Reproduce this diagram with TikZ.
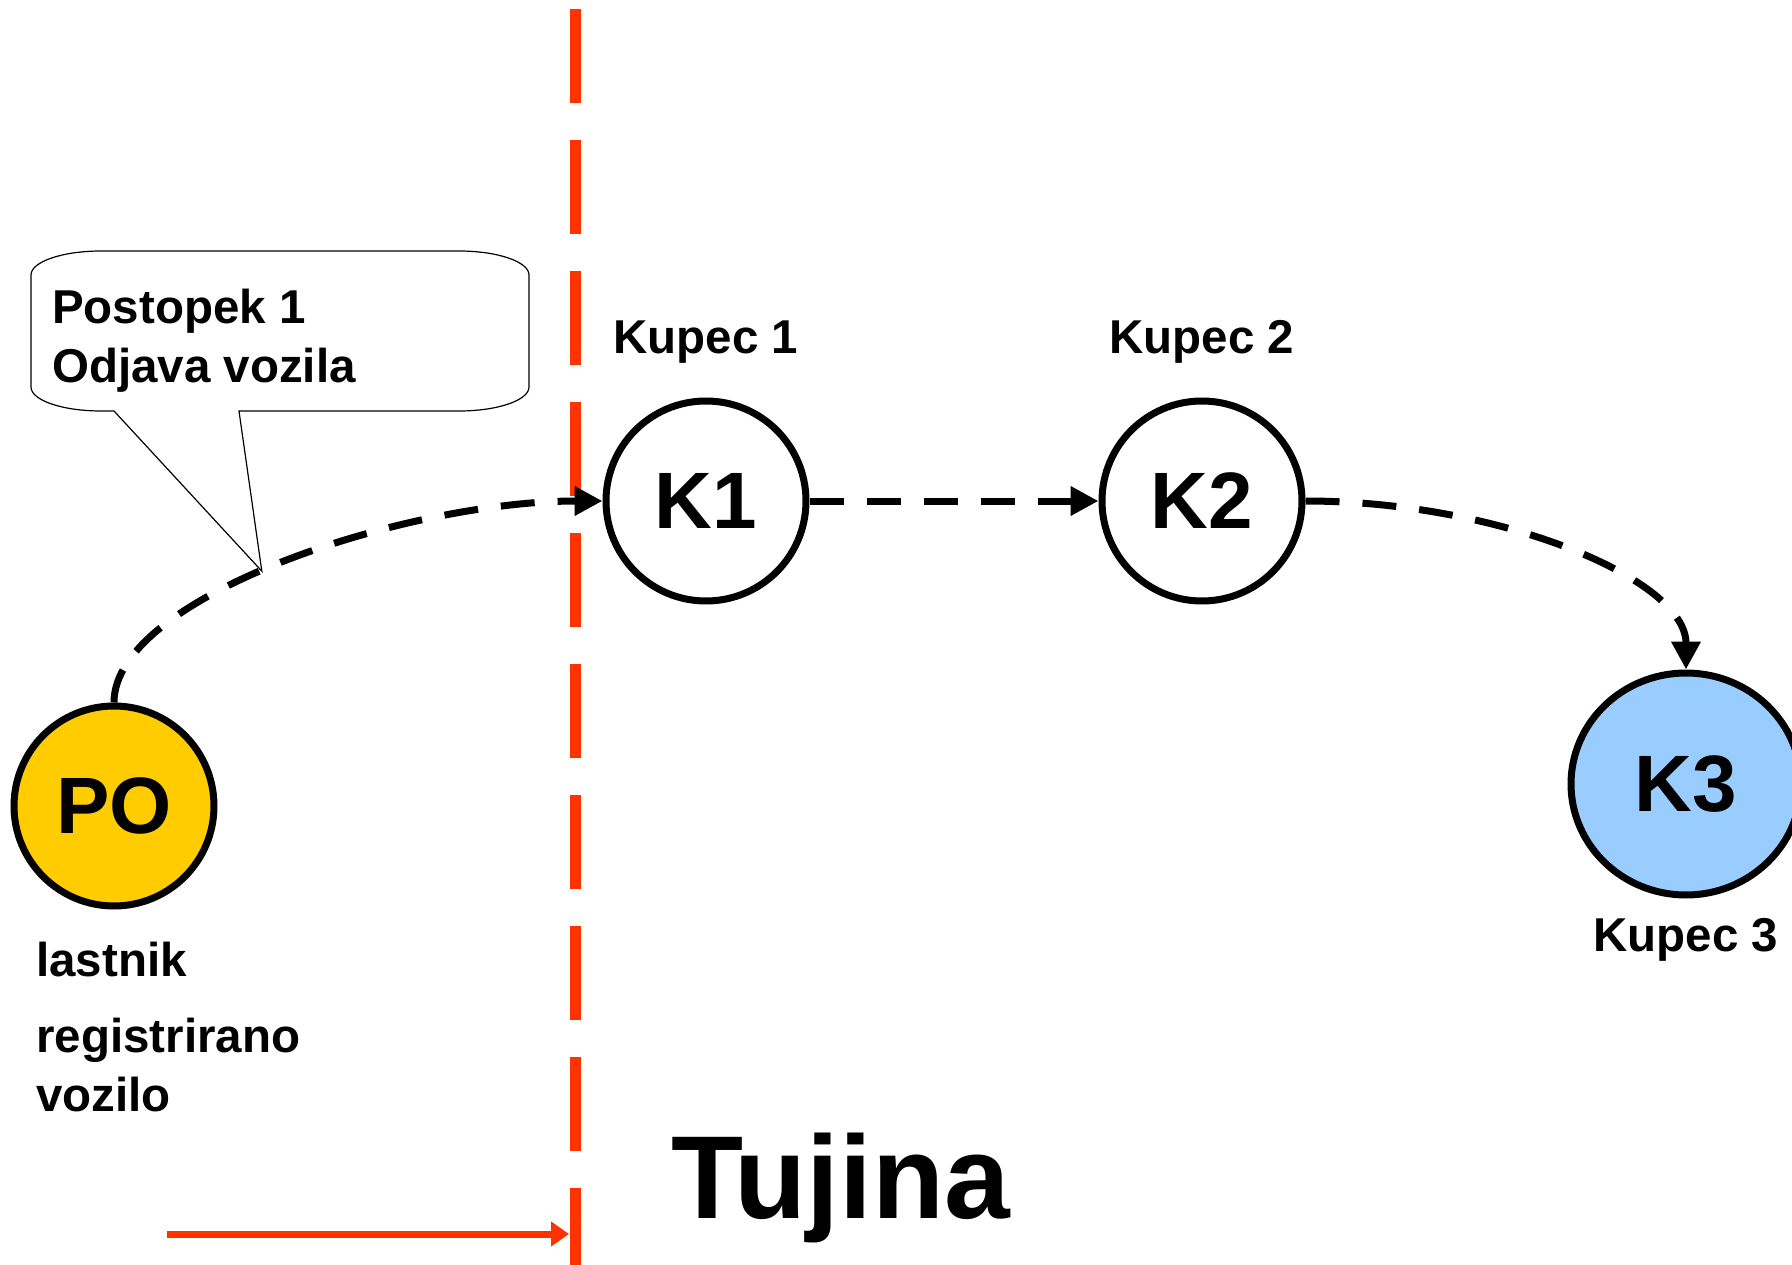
\documentclass[tikz,border=0pt]{standalone}
\usepackage{fontspec}
\setmainfont{Liberation Sans}
\usepackage{xcolor}
\usetikzlibrary{shapes,arrows.meta,positioning}
\definecolor{poyellow}{RGB}{255,204,0}
\definecolor{kblue}{RGB}{153,204,255}
\definecolor{mejared}{RGB}{255,51,0}

\begin{document}
\begin{tikzpicture}[x=1pt, y=1pt, node distance=34pt, auto]
    \tikzstyle{oseba} = [circle, draw, line width=7pt, minimum size=200pt, inner sep=0pt, font=\fontsize{80}{80}\selectfont\bfseries]
    \tikzstyle{oznaka} = [inner sep=0pt, font=\fontsize{47.5}{59}\selectfont\bfseries]
    \tikzstyle{pot} = [line width=7pt, dash pattern=on 34pt off 23pt, -{Triangle[length=28pt,width=28pt]}]
    \tikzstyle{meja} = [mejared, line width=11pt]

    \useasboundingbox (0,0) rectangle (1792,-1265);

    \node [oseba, fill=poyellow] (po) at (114,-806) {PO};
    \node [oseba] (k1) at (706,-501) {K1};
    \node [oseba, right=289pt of k1] (k2) {K2};
    \node [oseba, ellipse, fill=kblue, minimum width=230pt, minimum height=222pt] (k3) at (1686,-784) {K3};

    \node [oznaka, above=of k1] (kupec1) {Kupec 1};
    \node [oznaka, above=of k2] (kupec2) {Kupec 2};
    \node [oznaka, below=20pt of k3] (kupec3) {Kupec 3};
    \node [oznaka, anchor=north west] (lastnik) at (36,-942) {lastnik};
    \node [oznaka, below=41pt of lastnik.south west, anchor=north west, align=left] (vozilo) {registrirano\\vozilo};
    \node [inner sep=0pt, anchor=base west, font=\fontsize{118}{118}\selectfont\bfseries] (tujina) at (671,-1218) {Tujina};

    \coordinate (mejazg) at (575,-9);
    \coordinate (mejasp) at (575,-1265);
    \coordinate (puscica) at (167,-1234);
    \coordinate (mejakonec) at (569,-1234);
    \draw [meja, dash pattern=on 94pt off 37pt] (mejazg) -- (mejasp);
    \draw [mejared, line width=7pt, -{Triangle[length=18pt,width=24pt]}] (puscica) -- (mejakonec);

    \draw [pot] (po.north) .. controls +(0,106) and +(-196,0) .. (k1.west) coordinate[pos=0.46] (konica);
    \draw [pot] (k1) -- (k2);
    \draw [pot] (k2.east) .. controls +(195,0) and +(0,90) .. (k3.north);

    \node [oznaka, anchor=west, align=left] (postopek) at (52,-341) {Postopek 1\\Odjava vozila};
    \draw [line width=1.2pt] (114,-411) -- (konica) -- (239,-411) -- (459,-411)
        arc[start angle=270, end angle=360, x radius=70pt, y radius=24pt] -- (529,-275)
        arc[start angle=0, end angle=90, x radius=70pt, y radius=24pt] -- (101,-251)
        arc[start angle=90, end angle=180, x radius=70pt, y radius=24pt] -- (31,-387)
        arc[start angle=180, end angle=270, x radius=70pt, y radius=24pt] -- cycle;
\end{tikzpicture}
\end{document}
